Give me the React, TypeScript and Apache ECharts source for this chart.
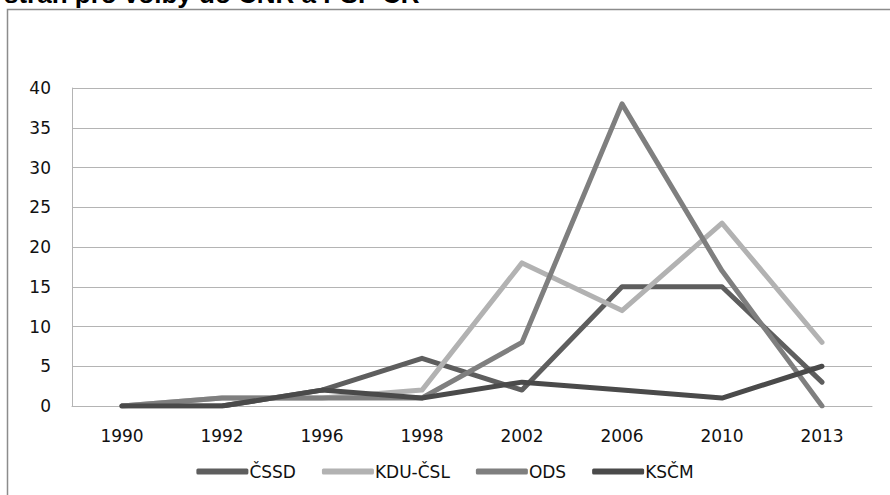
import React, { useEffect, useRef } from "react";
import * as echarts from "echarts";

const years = ["1990", "1992", "1996", "1998", "2002", "2006", "2010", "2013"];
const cssd = [0, 0, 2, 6, 2, 15, 15, 3];
const kducsl = [0, 1, 1, 2, 18, 12, 23, 8];
const ods = [0, 1, 1, 1, 8, 38, 17, 0];
const kscm = [0, 0, 2, 1, 3, 2, 1, 5];
const seriesNames = ["ČSSD", "KDU-ČSL", "ODS", "KSČM"];
const seriesColors = ["#5e5e5e", "#b2b2b2", "#7f7f7f", "#4a4a4a"];
const titleText = "stran pro volby do ČNR a PSP ČR";

export default function App() {
  const ref = useRef<HTMLDivElement>(null);
  useEffect(() => {
    if (!ref.current) return;
    const chart = echarts.init(ref.current, undefined, { renderer: "svg" });
    const values = [cssd, kducsl, ods, kscm];
    chart.setOption({
      animation: false,
      backgroundColor: "#ffffff",
      textStyle: { fontFamily: "DejaVu Sans" },
      graphic: [
        {
          type: "text",
          x: 4,
          y: 7,
          style: {
            text: titleText,
            fontFamily: "Liberation Sans",
            fontWeight: "bold",
            fontSize: 26,
            fill: "#000",
            textVerticalAlign: "bottom",
          },
        },
        {
          type: "polyline",
          shape: { points: [[7.5, 520], [7.5, 9.5], [900, 9.5]] },
          style: { stroke: "#8c8c8c", lineWidth: 1.5, fill: "none" },
        },
      ],
      grid: { left: 72, right: 18, top: 88, bottom: 89 },
      legend: {
        top: 458,
        left: "center",
        itemWidth: 52,
        itemHeight: 6,
        itemGap: 26,
        icon: "roundRect",
        textStyle: { fontFamily: "DejaVu Sans", fontSize: 17, color: "#111", padding: [0, 0, 0, -4] },
        data: seriesNames,
      },
      xAxis: {
        type: "category",
        data: years,
        boundaryGap: true,
        axisTick: { show: false },
        axisLine: { show: true, lineStyle: { color: "#b4b4b4", width: 1 } },
        axisLabel: { color: "#111", fontSize: 17, fontFamily: "DejaVu Sans", margin: 21 },
      },
      yAxis: {
        type: "value",
        min: 0,
        max: 40,
        interval: 5,
        axisLine: { show: true, lineStyle: { color: "#b4b4b4", width: 1 } },
        axisTick: { show: false },
        splitLine: { lineStyle: { color: "#b4b4b4", width: 1 } },
        axisLabel: { color: "#111", fontSize: 17, fontFamily: "DejaVu Sans", margin: 21 },
      },
      series: seriesNames.map((name, i) => ({
        name,
        type: "line",
        data: values[i],
        showSymbol: false,
        symbol: "none",
        color: seriesColors[i],
        lineStyle: { width: 5, color: seriesColors[i], cap: "round", join: "round" },
      })),
    });
    return () => chart.dispose();
  }, []);
  return (
    <div
      ref={ref}
      style={{ position: "fixed", left: 0, top: 0, width: 890, height: 495 }}
    />
  );
}
